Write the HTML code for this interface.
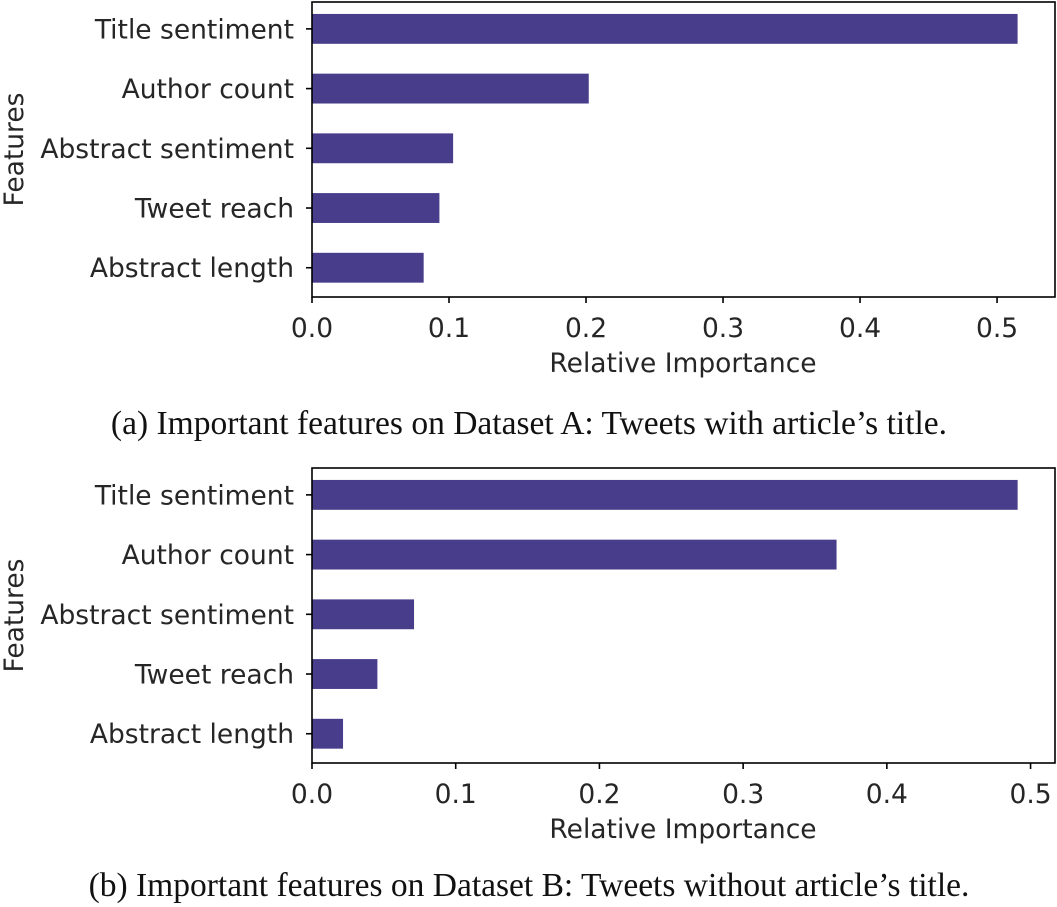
<!DOCTYPE html>
<html><head><meta charset="utf-8"><style>
html,body{margin:0;padding:0;background:#fff;}
svg{display:block;}
.tk{font-family:"DejaVu Sans","Liberation Sans",sans-serif;font-size:26.5px;fill:#262626;}
.cap{font-family:"Liberation Serif",serif;font-size:33.5px;fill:#111;}
</style></head><body>
<svg id="fig" width="1057" height="907" viewBox="0 0 1057 907" xmlns="http://www.w3.org/2000/svg"></svg>
<script>
const categories = ["Title sentiment","Author count","Abstract sentiment","Tweet reach","Abstract length"];
const valuesA = [0.515, 0.202, 0.103, 0.093, 0.0815];
const valuesB = [0.491, 0.365, 0.071, 0.0455, 0.0216];
const ticksA = [0.0, 0.1, 0.2, 0.3, 0.4, 0.5];
const ticksB = [0.0, 0.1, 0.2, 0.3, 0.4, 0.5];
const tickLabelsA = ["0.0","0.1","0.2","0.3","0.4","0.5"];
const tickLabelsB = ["0.0","0.1","0.2","0.3","0.4","0.5"];
const captionA = "(a) Important features on Dataset A: Tweets with article\u2019s title.";
const captionB = "(b) Important features on Dataset B: Tweets without article\u2019s title.";

const NS = "http://www.w3.org/2000/svg";
const svg = document.getElementById('fig');
function mk(tag, attrs, parent){
  const e = document.createElementNS(NS, tag);
  for (const k in attrs) e.setAttribute(k, attrs[k]);
  (parent||svg).appendChild(e);
  return e;
}
function panel(id, cfg, values, ticks, tickLabels, caption){
  const g = mk('g', {});
  
  
  const x = v => cfg.left + (v - 0) / cfg.xmax * (cfg.right - cfg.left);
  const step = (cfg.bottom - cfg.top) / 4.94;
  const y = i => cfg.top + step * 0.45 + i * step;
  const bh = step * 0.5;
  values.forEach((v, i) => {
    const r = mk('rect', {x: x(0), y: y(i) - bh/2, width: x(v) - x(0), height: bh, fill: '#483D8B'}, g);
    
    
    mk('line', {x1: cfg.left - 6, x2: cfg.left, y1: y(i), y2: y(i), stroke: '#000', 'stroke-width': 1.6}, g);
    const t = mk('text', {x: cfg.left - 18, y: y(i) + 9.5, 'text-anchor': 'end', class: 'tk'}, g);
    t.textContent = categories[i];
    
    
  });
  ticks.forEach((v, i) => {
    mk('line', {x1: x(v), x2: x(v), y1: cfg.bottom, y2: cfg.bottom + 6, stroke: '#000', 'stroke-width': 1.6}, g);
    const t = mk('text', {x: x(v), y: cfg.bottom + 40, 'text-anchor': 'middle', class: 'tk'}, g);
    t.textContent = tickLabels[i];
    
    
  });
  const fr = mk('rect', {x: cfg.left, y: cfg.top, width: cfg.right - cfg.left, height: cfg.bottom - cfg.top, fill: 'none', stroke: '#000', 'stroke-width': 1.6}, g);
  
  
  const xt = mk('text', {x: 683, y: cfg.bottom + 75, 'text-anchor': 'middle', class: 'tk'}, g);
  xt.textContent = 'Relative Importance';
  
  
  const cy = (cfg.top + cfg.bottom) / 2;
  const yt = mk('text', {x: 0, y: 0, 'text-anchor': 'middle', class: 'tk', transform: 'translate(23,' + cy + ') rotate(-90)'}, g);
  yt.textContent = 'Features';
  
  
  const c = mk('text', {x: 529, y: cfg.capY, 'text-anchor': 'middle', class: 'cap'}, g);
  c.textContent = caption;
  
  
}
panel('panel-a', {left: 312, right: 1055, top: 2, bottom: 297, xmax: 0.5423, capY: 434}, valuesA, ticksA, tickLabelsA, captionA);
panel('panel-b', {left: 312, right: 1055, top: 468, bottom: 763, xmax: 0.517, capY: 896}, valuesB, ticksB, tickLabelsB, captionB);
</script>
</body></html>
